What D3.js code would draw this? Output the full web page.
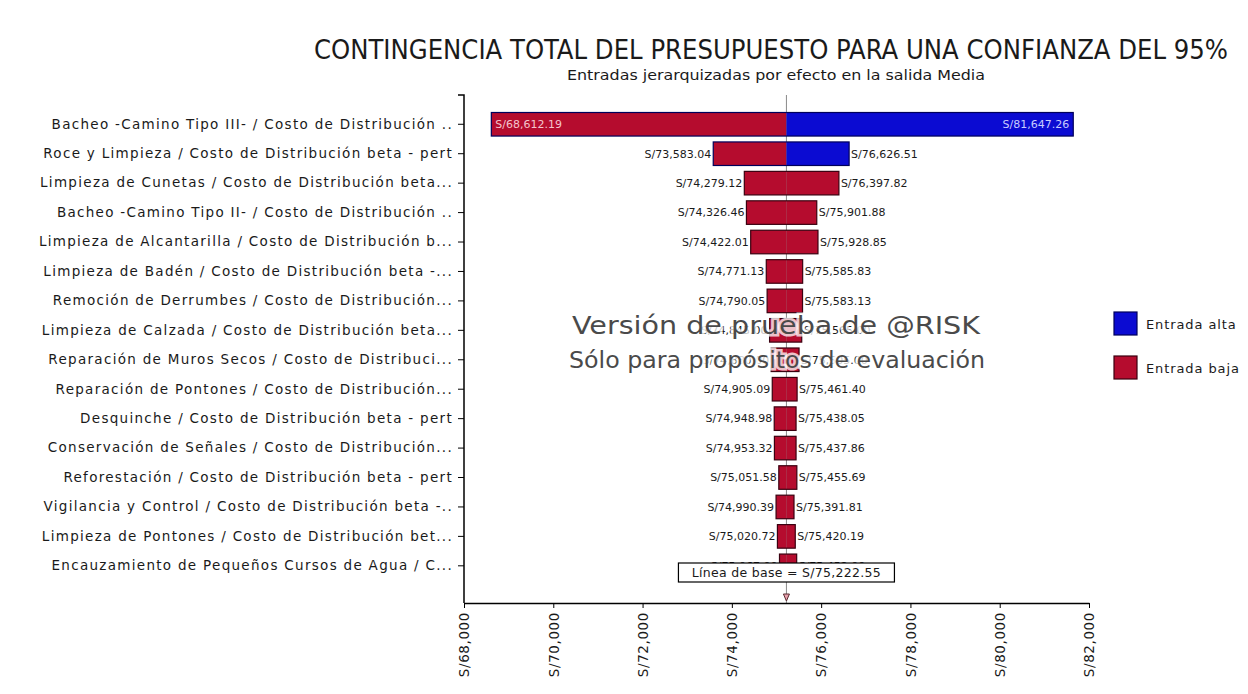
<!DOCTYPE html>
<html>
<head>
<meta charset="utf-8">
<script src="https://cdn.jsdelivr.net/npm/d3@7"></script>
<style>
    body { margin: 0; background: #ffffff; }
    #tornado { width: 1248px; height: 694px; }
    text { font-family: "DejaVu Sans", Verdana, sans-serif; fill: #1a1a1a; }
</style>
</head>
<body>
<div id="tornado"></div>
<script>
(function () {

    // tornado chart of @RISK inputs, ranked by effect on the mean

    var inputs = [
        'Bacheo -Camino Tipo III- / Costo de Distribución ..',
        'Roce y Limpieza / Costo de Distribución beta - pert',
        'Limpieza de Cunetas / Costo de Distribución beta...',
        'Bacheo -Camino Tipo II- / Costo de Distribución ..',
        'Limpieza de Alcantarilla / Costo de Distribución b...',
        'Limpieza de Badén / Costo de Distribución beta -...',
        'Remoción de Derrumbes / Costo de Distribución...',
        'Limpieza de Calzada / Costo de Distribución beta...',
        'Reparación de Muros Secos / Costo de Distribuci...',
        'Reparación de Pontones / Costo de Distribución...',
        'Desquinche / Costo de Distribución beta - pert',
        'Conservación de Señales / Costo de Distribución...',
        'Reforestación / Costo de Distribución beta - pert',
        'Vigilancia y Control / Costo de Distribución beta -..',
        'Limpieza de Pontones / Costo de Distribución bet...',
        'Encauzamiento de Pequeños Cursos de Agua / C...'
    ];

    var lowValues = [68612.19, 73583.04, 74279.12, 74326.46, 74422.01, 74771.13, 74790.05, 74845.00,
        74880.00, 74905.09, 74948.98, 74953.32, 75051.58, 74990.39, 75020.72, 75067.00];

    var highValues = [81647.26, 76626.51, 76397.82, 75901.88, 75928.85, 75585.83, 75583.13, 75565.00,
        75505.00, 75461.40, 75438.05, 75437.86, 75455.69, 75391.81, 75420.19, 75452.00];

    // which input drives the right half of each bar
    var rightInput = ['alta', 'alta', 'baja', 'baja', 'baja', 'baja', 'baja', 'baja',
        'baja', 'baja', 'baja', 'baja', 'baja', 'baja', 'baja', 'baja'];

    var baseline = 75222.55;

    var xTicks = [68000, 70000, 72000, 74000, 76000, 78000, 80000, 82000];

    var legendKeys = ['alta', 'baja'];
    var legendLabels = ['Entrada alta', 'Entrada baja'];


    var colours = { alta: '#0b0bd2', baja: '#b50c2e' };
    var borders = { alta: '#00005a', baja: '#3a0010' };

    var money = function (v) {
        return 'S/' + d3.format(',.2f')(v);
    };


    var width = 1248, height = 694;

    var svg = d3.select('#tornado')
        .append('svg')
        .attr('width', width)
        .attr('height', height);


    var rows = inputs.map(function (d, i) {
        return { name: d, low: lowValues[i], high: highValues[i], right: rightInput[i] };
    });


    var xScale = d3.scaleLinear()
        .domain([68000, 82000])
        .range([464, 1089]);

    var yScale = d3.scaleBand()
        .domain(inputs)
        .range([112.5, 577.6])
        .paddingInner(0.2);

    var plotTop = 95, plotBottom = 603;


    // title and subtitle
    svg.append('text')
        .attr('x', 771)
        .attr('y', 59)
        .attr('text-anchor', 'middle')
        .attr('textLength', 914)
        .attr('lengthAdjust', 'spacingAndGlyphs')
        .style('font-size', '27px')
        .style('font-family', '"Liberation Sans Narrow", "DejaVu Sans Condensed", sans-serif')
        .text('CONTINGENCIA TOTAL DEL PRESUPUESTO PARA UNA CONFIANZA DEL 95%');

    svg.append('text')
        .attr('x', 776)
        .attr('y', 80)
        .attr('text-anchor', 'middle')
        .attr('textLength', 418)
        .attr('lengthAdjust', 'spacingAndGlyphs')
        .style('font-size', '14px')
        .style('font-family', '"Liberation Sans Narrow", "DejaVu Sans Condensed", sans-serif')
        .text('Entradas jerarquizadas por efecto en la salida Media');


    // baseline line
    svg.append('line')
        .attr('x1', xScale(baseline))
        .attr('x2', xScale(baseline))
        .attr('y1', plotTop)
        .attr('y2', plotBottom)
        .attr('stroke', '#8a8a8a')
        .attr('stroke-width', 1);


    // bars, split at the baseline
    var groups = svg.selectAll('.row')
        .data(rows)
        .enter()
        .append('g')
        .attr('class', 'row');

    groups.append('rect')
        .attr('x', function (d) { return xScale(d.low); })
        .attr('y', function (d) { return yScale(d.name); })
        .attr('width', function (d) { return xScale(baseline) - xScale(d.low); })
        .attr('height', yScale.bandwidth())
        .attr('fill', colours.baja);

    groups.append('rect')
        .attr('x', xScale(baseline))
        .attr('y', function (d) { return yScale(d.name); })
        .attr('width', function (d) { return xScale(d.high) - xScale(baseline); })
        .attr('height', yScale.bandwidth())
        .attr('fill', function (d) { return colours[d.right]; });

    groups.append('rect')
        .attr('x', function (d) { return xScale(d.low); })
        .attr('y', function (d) { return yScale(d.name); })
        .attr('width', function (d) { return xScale(d.high) - xScale(d.low); })
        .attr('height', yScale.bandwidth())
        .attr('fill', 'none')
        .attr('stroke', function (d) { return borders[d.right]; })
        .attr('stroke-width', 1.2);


    // value labels, inside the bar when there is no room outside
    var labelRoom = 70;

    groups.append('text')
        .attr('x', function (d) {
            return xScale(d.low) - labelRoom < xScale.range()[0] ? xScale(d.low) + 4 : xScale(d.low) - 2;
        })
        .attr('y', function (d) { return yScale(d.name) + yScale.bandwidth() / 2; })
        .attr('dy', '0.35em')
        .attr('text-anchor', function (d) {
            return xScale(d.low) - labelRoom < xScale.range()[0] ? 'start' : 'end';
        })
        .style('font-size', '11px')
        .style('fill', function (d) {
            return xScale(d.low) - labelRoom < xScale.range()[0] ? '#f4c4cc' : '#1a1a1a';
        })
        .text(function (d) { return money(d.low); });

    groups.append('text')
        .attr('x', function (d) {
            return xScale(d.high) + labelRoom > xScale.range()[1] ? xScale(d.high) - 4 : xScale(d.high) + 2;
        })
        .attr('y', function (d) { return yScale(d.name) + yScale.bandwidth() / 2; })
        .attr('dy', '0.35em')
        .attr('text-anchor', function (d) {
            return xScale(d.high) + labelRoom > xScale.range()[1] ? 'end' : 'start';
        })
        .style('font-size', '11px')
        .style('fill', function (d) {
            return xScale(d.high) + labelRoom > xScale.range()[1] ? '#c8ccff' : '#1a1a1a';
        })
        .text(function (d) { return money(d.high); });


    // y axis with input names
    var yAxis = svg.append('g')
        .attr('class', 'y axis')
        .attr('transform', 'translate(' + xScale.range()[0] + ',0)')
        .call(d3.axisLeft(yScale).tickSize(6).tickSizeOuter(0).tickPadding(5));

    yAxis.select('.domain').remove();
    yAxis.selectAll('text')
        .style('font-size', '13.5px')
        .style('letter-spacing', '1.3px')
        .style('fill', '#1a1a1a');

    svg.append('path')
        .attr('d', 'M' + (xScale.range()[0] - 6) + ',' + plotTop + 'H' + xScale.range()[0] + 'V' + plotBottom)
        .attr('fill', 'none')
        .attr('stroke', '#000')
        .attr('stroke-width', 1.5);


    // x axis with rotated labels
    var xAxis = svg.append('g')
        .attr('class', 'x axis')
        .attr('transform', 'translate(0,' + plotBottom + ')')
        .call(d3.axisBottom(xScale).tickValues(xTicks).tickSize(5).tickSizeOuter(0).tickFormat(function (v) {
            return 'S/' + d3.format(',')(v);
        }));

    xAxis.select('.domain').attr('stroke-width', 1.5);

    xAxis.selectAll('text')
        .attr('transform', 'rotate(-90)')
        .attr('x', -9)
        .attr('y', 0)
        .attr('dy', '0.35em')
        .attr('text-anchor', 'end')
        .style('font-size', '13.5px')
        .style('letter-spacing', '0.6px')
        .style('fill', '#1a1a1a');


    // watermark
    var mark = svg.append('g')
        .attr('class', 'watermark')
        .style('pointer-events', 'none');

    mark.append('text')
        .attr('x', 776)
        .attr('y', 334)
        .attr('text-anchor', 'middle')
        .attr('textLength', 408)
        .attr('lengthAdjust', 'spacingAndGlyphs')
        .style('font-size', '25px')
        .style('fill', '#4a4a4a')
        .style('stroke', 'rgba(255,255,255,0.75)')
        .style('stroke-width', '5px')
        .style('paint-order', 'stroke')
        .text('Versión de prueba de @RISK');

    mark.append('text')
        .attr('x', 777)
        .attr('y', 368)
        .attr('text-anchor', 'middle')
        .attr('textLength', 416)
        .attr('lengthAdjust', 'spacingAndGlyphs')
        .style('font-size', '23px')
        .style('fill', '#4a4a4a')
        .style('stroke', 'rgba(255,255,255,0.75)')
        .style('stroke-width', '5px')
        .style('paint-order', 'stroke')
        .text('Sólo para propósitos de evaluación');


    // baseline marker and label box
    var bx = xScale(baseline);

    svg.append('path')
        .attr('d', 'M' + (bx - 3) + ',' + (plotBottom - 9) + 'L' + (bx + 3) + ',' + (plotBottom - 9) + 'L' + bx + ',' + (plotBottom - 2) + 'Z')
        .attr('fill', '#e8a0ac')
        .attr('stroke', '#5a2a30')
        .attr('stroke-width', 1);

    var baseBox = svg.append('g');

    baseBox.append('rect')
        .attr('x', bx - 108)
        .attr('y', 563)
        .attr('width', 216)
        .attr('height', 19)
        .attr('fill', '#ffffff')
        .attr('stroke', '#000')
        .attr('stroke-width', 1.2);

    baseBox.append('text')
        .attr('x', bx)
        .attr('y', 573)
        .attr('dy', '0.35em')
        .attr('text-anchor', 'middle')
        .style('font-size', '12.5px')
        .style('letter-spacing', '0.3px')
        .text('Línea de base = ' + money(baseline));


    // legend
    var legend = svg.append('g')
        .attr('class', 'legend')
        .attr('transform', 'translate(1114,312)');

    var items = legend.selectAll('.item')
        .data(legendKeys)
        .enter()
        .append('g')
        .attr('class', 'item')
        .attr('transform', function (d, i) { return 'translate(0,' + (i * 44) + ')'; });

    items.append('rect')
        .attr('width', 23)
        .attr('height', 23)
        .attr('fill', function (d) { return colours[d]; })
        .attr('stroke', function (d) { return borders[d]; })
        .attr('stroke-width', 1.2);

    items.append('text')
        .attr('x', 32)
        .attr('y', 12)
        .attr('dy', '0.35em')
        .style('font-size', '13px')
        .style('letter-spacing', '0.9px')
        .text(function (d, i) { return legendLabels[i]; });

})()
</script>
</body>
</html>
